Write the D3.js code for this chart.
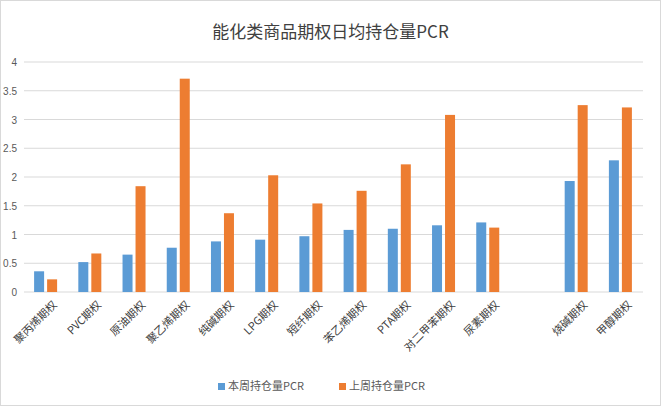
<!DOCTYPE html>
<html><head><meta charset="utf-8">
<script src="https://cdn.jsdelivr.net/npm/d3@7"></script>
<style>body{margin:0;background:#fff}</style>
</head><body><div id="chart"></div>
<script>
var categories = ["聚丙烯期权","PVC期权","原油期权","聚乙烯期权","纯碱期权","LPG期权","短纤期权","苯乙烯期权","PTA期权","对二甲苯期权","尿素期权","","烧碱期权","甲醇期权"];
var thisWeek = [0.36,0.52,0.65,0.77,0.88,0.91,0.97,1.08,1.10,1.16,1.21,null,1.93,2.29];
var lastWeek = [0.22,0.67,1.84,3.71,1.37,2.03,1.54,1.76,2.22,3.08,1.12,null,3.25,3.21];
var yTicks = [0,0.5,1,1.5,2,2.5,3,3.5,4];
var seriesNames = ["本周持仓量PCR","上周持仓量PCR"];
var colors = ["#5b9bd5","#ed7d31"];

var width = 661, height = 406;
var svg = d3.select("#chart").append("svg").attr("width", width).attr("height", height);
svg.append("rect").attr("x",0.5).attr("y",0.5).attr("width",width-1).attr("height",height-1)
  .attr("fill","#fff").attr("stroke","#d9d9d9");

svg.append("text").attr("x", width/2).attr("y", 38).attr("text-anchor","middle")
  .attr("font-family","'Noto Sans CJK SC', serif").attr("font-size",17).attr("fill","#404040")
  .text("能化类商品期权日均持仓量PCR");

var x = d3.scaleBand().domain(d3.range(categories.length)).range([24, 643]);
var y = d3.scaleLinear().domain([0,4]).range([292, 62]);

var g = svg.append("g");
g.selectAll(".grid").data(yTicks).enter().append("line")
  .attr("x1",24).attr("x2",643).attr("y1",d=>y(d)).attr("y2",d=>y(d))
  .attr("stroke","#d9d9d9");
g.selectAll(".yl").data(yTicks).enter().append("text")
  .attr("x",17).attr("y",d=>y(d)+4).attr("text-anchor","end")
  .attr("font-family","Liberation Sans, sans-serif").attr("font-size",10).attr("fill","#595959")
  .text(d=>d);

var bw = 10;
[thisWeek,lastWeek].forEach(function(vals,si){
  var data = vals.map((v,i)=>({v:v,i:i})).filter(d=>d.v!=null);
  g.selectAll(".bar"+si).data(data).enter().append("rect")
    .attr("x",d=>x(d.i)+x.bandwidth()/2 - 12 + si*13)
    .attr("y",d=>y(d.v)).attr("width",bw).attr("height",d=>y(0)-y(d.v))
    .attr("fill",colors[si]);
});

g.selectAll(".xl").data(categories).enter().append("text")
  .attr("transform",(d,i)=>"translate("+(x(i)+x.bandwidth()/2+6)+",300) rotate(-45)")
  .attr("text-anchor","end").attr("dy","0.7em")
  .attr("font-family","'Noto Sans CJK SC', serif").attr("font-size",11).attr("fill","#404040")
  .text(d=>d);

var lg = svg.append("g").attr("transform","translate(218,390)");
seriesNames.forEach(function(n,i){
  var gx = i*121;
  lg.append("rect").attr("x",gx).attr("y",-7).attr("width",7).attr("height",7).attr("fill",colors[i]);
  lg.append("text").attr("x",gx+10).attr("y",0).attr("font-family","'Noto Sans CJK SC', sans-serif")
    .attr("font-size",11).attr("fill","#595959").text(n);
});
</script></body></html>
